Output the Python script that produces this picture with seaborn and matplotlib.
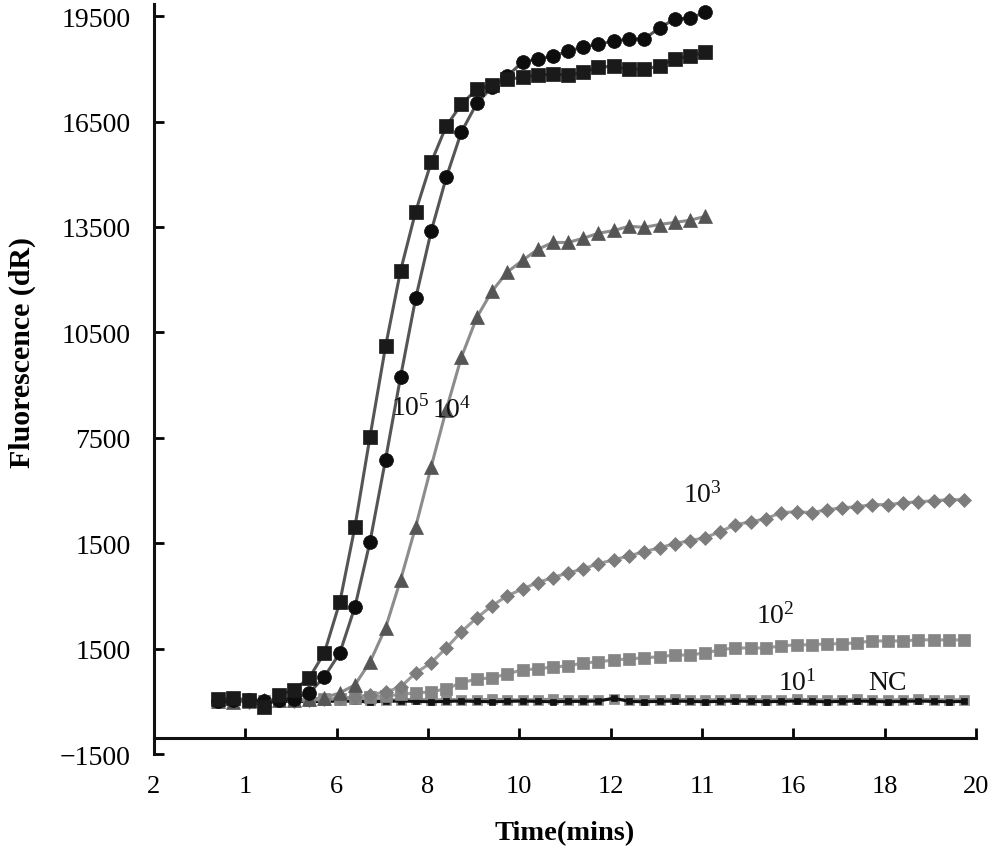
import matplotlib

matplotlib.use("Agg")
import matplotlib.pyplot as plt
import seaborn as sns

# Sampling times (minutes), one reading every 20 s
time_min = [
    3.40, 3.73, 4.07, 4.40, 4.73, 5.07, 5.40, 5.73, 6.07, 6.40,
    6.73, 7.07, 7.40, 7.73, 8.07, 8.40, 8.73, 9.07, 9.40, 9.73,
    10.07, 10.40, 10.73, 11.07, 11.40, 11.73, 12.07, 12.40, 12.73, 13.07,
    13.40, 13.73, 14.07, 14.40, 14.73, 15.07, 15.40, 15.73, 16.07, 16.40,
    16.73, 17.07, 17.40, 17.73, 18.07, 18.40, 18.73, 19.07, 19.40, 19.73,
]

# Fluorescence (dR)
fl_1e6 = [
    60, 90, 40, -150, 180, 330, 670, 1380, 2830, 4970,
    7530, 10100, 12260, 13940, 15340, 16370, 16990, 17420, 17530, 17700,
    17760, 17820, 17850, 17820, 17900, 18050, 18070, 17990, 17990, 18080,
    18280, 18360, 18470,
]
fl_1e5 = [
    20, 50, 30, 10, 40, 80, 240, 700, 1380, 2690,
    4540, 6880, 9240, 11470, 13380, 14910, 16200, 17020, 17480, 17790,
    18190, 18280, 18360, 18500, 18620, 18700, 18790, 18850, 18850, 19160,
    19420, 19440, 19610,
]
fl_1e4 = [
    0, -30, 20, 40, 30, 50, 60, 110, 240, 470,
    1120, 2090, 3460, 4970, 6680, 8300, 9790, 10930, 11670, 12210,
    12550, 12860, 13060, 13060, 13180, 13320, 13400, 13520, 13490, 13570,
    13630, 13690, 13800,
]
fl_1e3 = [
    0, 30, -20, 10, 40, 20, 50, 60, 90, 130,
    184, 270, 410, 810, 1100, 1520, 1980, 2380, 2720, 3000,
    3200, 3380, 3520, 3660, 3770, 3920, 4030, 4140, 4260, 4370,
    4490, 4570, 4660, 4830, 5030, 5110, 5200, 5370, 5400, 5370,
    5450, 5510, 5540, 5600, 5600, 5650, 5680, 5710, 5740, 5740,
]
fl_1e2 = [
    40, 60, 20, 0, 30, 50, 40, 60, 80, 90,
    120, 150, 200, 240, 270, 360, 530, 640, 670, 780,
    900, 925, 980, 1010, 1095, 1125, 1180, 1210, 1240, 1270,
    1320, 1320, 1380, 1470, 1520, 1520, 1520, 1580, 1610, 1610,
    1640, 1640, 1670, 1720, 1720, 1720, 1750, 1750, 1750, 1750,
]
fl_1e1 = [
    50, 40, 60, 30, 50, 40, 60, 50, 40, 60,
    50, 40, 50, 60, 40, 50, 50, 40, 60, 50,
    40, 50, 60, 50, 40, 50, 60, 50, 40, 50,
    60, 50, 40, 50, 60, 50, 40, 50, 60, 50,
    40, 50, 60, 50, 40, 50, 60, 50, 40, 50,
]
fl_nc = [
    0, -20, 10, -40, 0, 10, -10, 0, 10, 0,
    -10, 0, 10, 0, -10, 0, 10, 0, -10, 0,
    10, 0, -10, 0, 0, 10, 90, 0, -10, 0,
    10, 0, -10, 0, 10, 0, -10, 0, 10, 0,
    -10, 0, 10, 0, -10, 0, 10, 0, -10, 0,
]

x_ticks = [2, 4, 6, 8, 10, 12, 14, 16, 18, 20]
x_tick_labels = ["2", "1", "6", "8", "10", "12", "11", "16", "18", "20"]
y_ticks = [-1500, 1500, 4500, 7500, 10500, 13500, 16500, 19500]
y_tick_labels = ["\u22121500", "1500", "1500", "7500", "10500", "13500", "16500", "19500"]

curve_labels = [r"$\mathregular{10^5}$", r"$\mathregular{10^4}$", r"$\mathregular{10^3}$",
                r"$\mathregular{10^2}$", r"$\mathregular{10^1}$", "NC"]
label_pos = [(7.62, 8360), (8.52, 8300), (14.01, 5880), (15.61, 2460), (16.09, 550), (18.06, 530)]


def main():
    sns.set_style("ticks")
    plt.rcParams["font.family"] = ["Liberation Serif", "DejaVu Serif"]
    plt.rcParams["mathtext.fontset"] = "custom"
    plt.rcParams["mathtext.rm"] = "Liberation Serif"
    plt.rcParams["text.color"] = "black"
    plt.rcParams["axes.labelcolor"] = "black"
    plt.rcParams["xtick.color"] = "black"
    plt.rcParams["ytick.color"] = "black"

    fig = plt.figure(figsize=(10, 8.62), dpi=100)
    ax = fig.add_axes([0.154, 0.124, 0.822, 0.870])

    n_top = len(fl_1e6)
    # (values, n points, marker, size, marker colour, line colour)
    series = [
        (fl_1e1, len(fl_1e1), "s", 7, "#8a8a8a", "#8a8a8a"),
        (fl_nc, len(fl_nc), "s", 4, "#111111", "#111111"),
        (fl_1e2, len(fl_1e2), "s", 9, "#858585", "#9a9a9a"),
        (fl_1e3, len(fl_1e3), "D", 7, "#7c7c7c", "#9a9a9a"),
        (fl_1e4, n_top, "^", 10, "#555555", "#8c8c8c"),
        (fl_1e5, n_top, "o", 10, "#0d0d0d", "#555555"),
        (fl_1e6, n_top, "s", 10, "#1a1a1a", "#555555"),
    ]
    for vals, n, mk, ms, mc, lc in series:
        sns.lineplot(
            x=time_min[:n], y=vals, ax=ax, color=lc, linewidth=2.2,
            marker=mk, markersize=ms, markerfacecolor=mc, markeredgecolor=mc,
            markeredgewidth=0.5,
        )

    for txt, (tx, ty) in zip(curve_labels, label_pos):
        ax.text(tx, ty, txt, fontsize=20, ha="center", va="center", color="#111111")

    ax.set_xlim(2, 20)
    ax.set_ylim(-1500, 19840)
    ax.set_xticks(x_ticks)
    ax.set_xticklabels(x_tick_labels)
    ax.set_yticks(y_ticks)
    ax.set_yticklabels(y_tick_labels)

    for side in ["top", "right"]:
        ax.spines[side].set_visible(False)
    ax.spines["bottom"].set_position(("data", -1040))
    for side in ["left", "bottom"]:
        ax.spines[side].set_linewidth(2.2)
        ax.spines[side].set_color("#111111")

    ax.tick_params(axis="x", direction="in", length=7, width=2, pad=27, labelsize=19)
    ax.tick_params(axis="y", direction="in", length=7, width=2, pad=17, labelsize=20)

    ax.set_xlabel("Time(mins)", fontsize=20.5, fontweight="bold")
    ax.set_ylabel("Fluorescence (dR)", fontsize=21.5, fontweight="bold")
    ax.xaxis.set_label_coords(0.5, -0.088)
    ax.yaxis.set_label_coords(-0.143, 0.537)

    fig.savefig("out.png", dpi=100)
    plt.close(fig)


if __name__ == "__main__":
    main()
